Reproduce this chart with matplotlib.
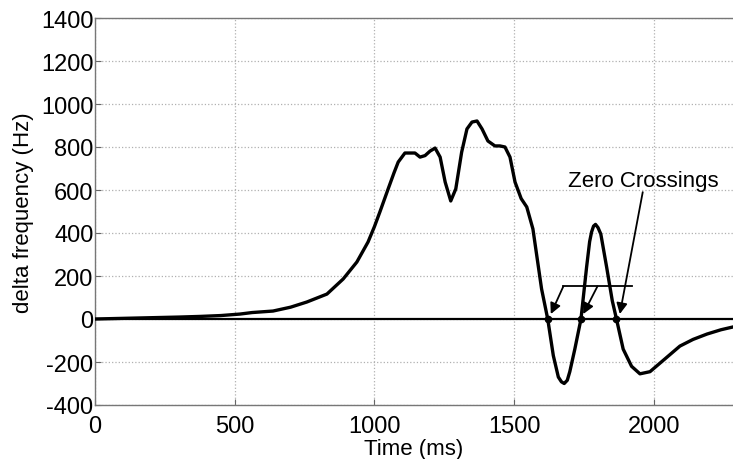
import matplotlib
matplotlib.use("Agg")
import matplotlib.pyplot as plt

plt.rcParams['font.family'] = ['Liberation Sans', 'DejaVu Sans']
plt.rcParams['axes.unicode_minus'] = False

time_ms = [0, 100, 200, 300, 376, 450, 519, 562, 637, 700, 758, 830, 888, 937, 977,
           1000, 1020, 1049, 1070, 1085, 1109, 1145, 1163, 1181, 1199, 1217, 1235, 1253,
           1273, 1291, 1312, 1331, 1349, 1367, 1385, 1406, 1431, 1449, 1467, 1485,
           1503, 1525, 1545, 1567, 1598, 1620, 1640, 1658, 1669, 1679, 1690, 1699,
           1717, 1739, 1759, 1770, 1777, 1784, 1791, 1800, 1810, 1831, 1851, 1866, 1890,
           1920, 1950, 1986, 2040, 2093, 2140, 2190, 2240, 2283]
delta_hz = [0, 3, 6, 9, 12, 16, 23, 30, 37, 55, 79, 116, 186, 265, 358,
            430, 500, 605, 680, 730, 772, 772, 753, 760, 781, 795, 753, 637,
            549, 605, 776, 884, 916, 921, 884, 828, 805, 805, 800, 753,
            637, 560, 521, 419, 140, 0, -170, -270, -292, -300, -285, -245,
            -140, 0, 240, 360, 405, 432, 440, 425, 395, 240, 85, 0, -140,
            -220, -255, -245, -185, -126, -95, -70, -50, -37]

crossings_ms = [1620, 1739, 1866]

xticks = [0, 500, 1000, 1500, 2000]
yticks = [-400, -200, 0, 200, 400, 600, 800, 1000, 1200, 1400]

W, H = 733, 460
fig = plt.figure(figsize=(W / 100, H / 100), dpi=100)
ax = fig.add_axes([95 / W, 54 / H, (W - 95) / W, 387 / H])

ax.set_xlim(0, 2283)
ax.set_ylim(-400, 1400)
ax.set_xticks(xticks)
ax.set_yticks(yticks)
ax.grid(True, linestyle=':', color='#b0b0b0', linewidth=0.9)
ax.tick_params(direction='in', length=4, labelsize=17, color='#666666')
ax.tick_params(axis='x', pad=7.5)
ax.tick_params(axis='y', pad=1)
for s in ['left', 'top', 'bottom']:
    ax.spines[s].set_color('#777777')
    ax.spines[s].set_linewidth(1.0)
ax.spines['right'].set_visible(False)

ax.axhline(0, color='black', linewidth=1.6, zorder=3)
ax.plot(time_ms, delta_hz, color='black', linewidth=2.4, zorder=4)
ax.plot(crossings_ms, [0] * len(crossings_ms), 'o', color='black', markersize=4.5, zorder=5)

ax.set_xlabel('Time (ms)', fontsize=16, labelpad=0.5)
ax.set_ylabel('delta frequency (Hz)', fontsize=16, labelpad=5)

# annotation
ax.text(1692, 642, 'Zero Crossings', fontsize=16, va='center', ha='left')
ap = dict(arrowstyle='-|>', color='black', lw=1.3, mutation_scale=16, shrinkA=0, shrinkB=0)
ax.annotate('', xy=(1878, 23), xytext=(1960, 590), arrowprops=ap)
ax.plot([1676, 1920], [152, 152], color='black', lw=1.3)
ax.annotate('', xy=(1631, 23), xytext=(1676, 152), arrowprops=ap)
ax.annotate('', xy=(1747, 23), xytext=(1798, 152), arrowprops=ap)

fig.savefig('out.png', dpi=100)
